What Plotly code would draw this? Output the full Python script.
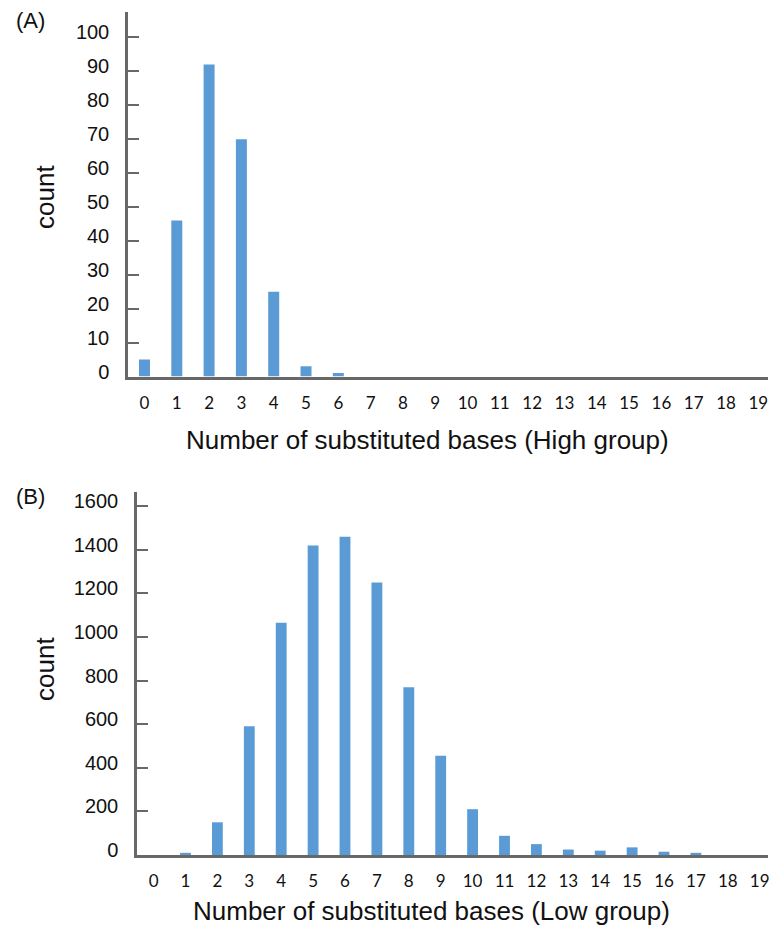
import plotly.graph_objects as go

W, H = 769, 932

categories = list(range(20))
tick_labels = [str(c) for c in categories]
high_counts = [5, 46, 92, 70, 25, 3, 1, 0, 0, 0, 0, 0, 0, 0, 0, 0, 0, 0, 0, 0]
low_counts = [0, 10, 150, 590, 1065, 1420, 1460, 1250, 770, 455, 210, 88, 50, 25, 20, 35, 15, 10, 0, 0]

BAR = "#5B9BD5"
AX = "#686868"


def px(x):
    return x / W


def py(y):
    return 1 - y / H


fig = go.Figure()
fig.add_trace(go.Bar(x=categories, y=high_counts, marker=dict(color=BAR, line=dict(width=0)),
                     xaxis="x", yaxis="y", showlegend=False))
fig.add_trace(go.Bar(x=categories, y=low_counts, marker=dict(color=BAR, line=dict(width=0)),
                     xaxis="x2", yaxis="y2", showlegend=False))

xcommon = dict(tickmode="array", tickvals=categories, ticktext=tick_labels,
               showline=True, linecolor=AX, linewidth=2.5, ticks="", showgrid=False,
               zeroline=False, automargin=False, ticklabelstandoff=9,
               ticklabeloverflow="allow",
               tickfont=dict(family="Lato", size=17, color="#111"))
ycommon = dict(showline=True, linecolor=AX, linewidth=2.5, ticks="inside", ticklen=11,
               tickwidth=2, tickcolor=AX, showgrid=False, zeroline=False, automargin=False,
               tickfont=dict(family="Liberation Sans", size=20, color="#111"),
               ticklabelshift=-5, ticklabelstandoff=12)

fig.update_layout(
    width=W, height=H,
    margin=dict(l=0, r=0, t=0, b=0),
    paper_bgcolor="white", plot_bgcolor="white",
    bargap=0.66,
    xaxis=dict(domain=[px(128), px(768)], range=[-0.51, 19.3], anchor="y", **xcommon),
    yaxis=dict(domain=[py(376.5), py(12)], range=[0, 107.5], dtick=10, anchor="x", **ycommon),
    xaxis2=dict(domain=[px(137), px(768)], range=[-0.52, 19.26], anchor="y2", **xcommon),
    yaxis2=dict(domain=[py(855), py(492)], range=[0, 1665], dtick=200, anchor="x2", **ycommon),
)

title_font = dict(family="Liberation Sans", size=26, color="#111")
annotations = [
    dict(text="(A)", x=px(30), y=py(21), font=dict(family="Liberation Sans", size=22, color="#111")),
    dict(text="(B)", x=px(30), y=py(497), font=dict(family="Liberation Sans", size=22, color="#111")),
    dict(text="Number of substituted bases (High group)", x=px(427), y=py(440), font=title_font),
    dict(text="Number of substituted bases (Low group)", x=px(431), y=py(911), font=title_font),
    dict(text="count", x=px(45), y=py(197), textangle=-90, font=title_font),
    dict(text="count", x=px(45), y=py(669), textangle=-90, font=title_font),
]
for a in annotations:
    a.update(xref="paper", yref="paper", showarrow=False, xanchor="center", yanchor="middle")
fig.update_layout(annotations=annotations)

fig.write_html("out.html", config={"displayModeBar": False},
               post_script="document.body.style.margin='0';document.body.style.overflow='hidden';")
